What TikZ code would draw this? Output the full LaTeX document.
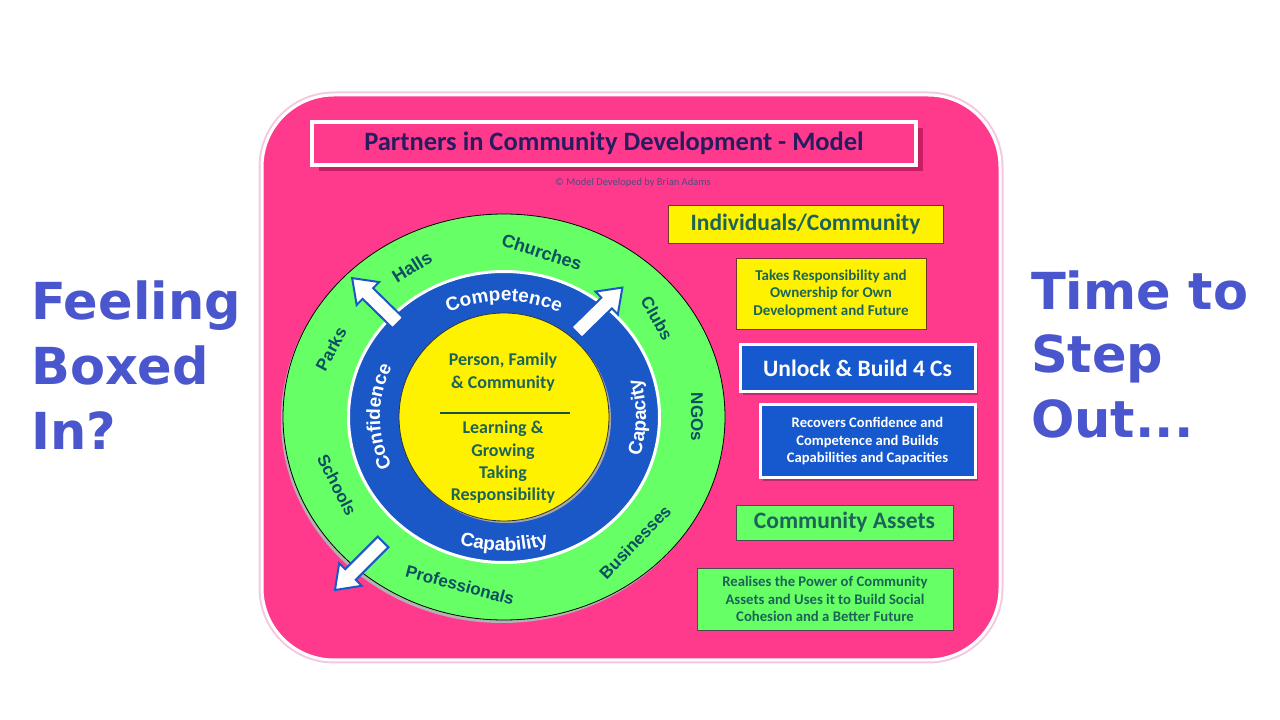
\documentclass[tikz,border=0pt]{standalone}
\usepackage{fontspec}
\setmainfont{Carlito}
\newfontfamily\arialf{Liberation Sans}
\newfontfamily\verdf{DejaVu Sans}
\usetikzlibrary{decorations.text,shadows}
\definecolor{pinkbg}{RGB}{255,58,140}
\definecolor{pinkshadow}{RGB}{200,30,100}
\definecolor{pinkedge}{RGB}{245,200,225}
\definecolor{titlenavy}{RGB}{38,28,96}
\definecolor{tealtxt}{RGB}{28,100,88}
\definecolor{ringtext}{RGB}{12,78,98}
\definecolor{ringblue}{RGB}{26,88,200}
\definecolor{boxblue}{RGB}{22,88,205}
\definecolor{ringgreen}{RGB}{102,255,102}
\definecolor{headblue}{RGB}{74,86,205}
\definecolor{ybrown}{RGB}{120,50,40}
\newcommand\ringfont{\arialf\bfseries\fontsize{19}{19}\selectfont}
\begin{document}
\begin{tikzpicture}[x=1pt,y=1pt,
  ybox/.style={fill=yellow, draw=ybrown, line width=0.8pt, text=tealtxt, align=center, inner sep=0pt},
  bbox/.style={fill=boxblue, draw=white, line width=3pt, text=white, align=center, inner sep=0pt,
     drop shadow={shadow xshift=3pt, shadow yshift=-3pt, fill=black, opacity=0.25}},
  gbox/.style={fill=ringgreen, draw=black!70, line width=0.8pt, text=tealtxt, align=center, inner sep=0pt},
  ringlabel/.style={text=ringtext, font=\arialf\bfseries\fontsize{17}{17}\selectfont, inner sep=0pt},
  centertext/.style={text=tealtxt, align=center, inner sep=0pt},
  headline/.style={text=headblue, font=\verdf\bfseries\fontsize{51}{51}\selectfont, inner sep=0pt, anchor=base west},
  bigarrow/.style={fill=white, draw=ringblue, line width=2pt, line join=miter}
]
\useasboundingbox (0,0) rectangle (1280,720);
\fill[white] (0,0) rectangle (1280,720);

% pink panel
\draw[pinkedge, line width=7pt, rounded corners=72pt] (262,60) rectangle (1000,625);
\draw[white, line width=3pt, fill=pinkbg, rounded corners=72pt] (262,60) rectangle (1000,625);

% title
\fill[pinkshadow] (319,549) rectangle (923,592);
\node[fill=pinkbg, draw=white, line width=4pt, minimum width=604pt, minimum height=43pt, inner sep=0pt,
      text=titlenavy, font=\bfseries\fontsize{26.5}{26.5}\selectfont] (title) at (614,576.5)
      {Partners in Community Development - Model};
\node[text=titlenavy!80, font=\fontsize{10.5}{10.5}\selectfont, inner sep=0pt] (copy) at (633,537)
      {© Model Developed by Brian Adams};

% circles
\coordinate (C) at (504,303);
\fill[gray!60] ([shift={(-2,-3)}]C) ellipse [x radius=221pt, y radius=203pt];
\draw[black, line width=0.8pt, fill=ringgreen] (C) ellipse [x radius=221pt, y radius=203pt];
\draw[white, line width=3pt, fill=ringblue] (C) ellipse [x radius=155.5pt, y radius=145.5pt];
\fill[gray!70] ([shift={(2,-2)}]C) ellipse [x radius=105pt, y radius=104pt];
\draw[black!80, line width=0.8pt, fill=yellow] (C) ellipse [x radius=105pt, y radius=104pt];

% centre text
\node[centertext, font=\bfseries\fontsize{18}{23}\selectfont] (pfc) at (503,348) {Person, Family\\\& Community};
\draw[tealtxt!80!black, line width=1.2pt] (440,307) -- (570,307);
\node[centertext, font=\bfseries\fontsize{18}{22.4}\selectfont] (lgt) at (503,257.5) {Learning \&\\Growing\\Taking\\Responsibility};

% blue ring text
\path[decorate, decoration={text along path, text align=center, text color=white, text={|\ringfont|Competence}}]
  ([shift={(150:124pt and 116pt)}]C) arc[start angle=150, end angle=30, x radius=124pt, y radius=116pt];
\path[decorate, decoration={text along path, text align=center, text color=white, text={|\ringfont|Confidence}}]
  ([shift={(240:124pt and 116pt)}]C) arc[start angle=240, end angle=120, x radius=124pt, y radius=116pt];
\path[decorate, decoration={text along path, text align=center, text color=white, text={|\ringfont|Capability}}]
  ([shift={(210:142pt and 134pt)}]C) arc[start angle=210, end angle=330, x radius=142pt, y radius=134pt];
\path[decorate, decoration={text along path, text align=center, text color=white, text={|\ringfont|Capacity}}]
  ([shift={(-60:142pt and 134pt)}]C) arc[start angle=-60, end angle=60, x radius=142pt, y radius=134pt];

% green ring labels
\node[ringlabel, rotate=32, font=\arialf\bfseries\fontsize{18}{18}\selectfont] (halls) at (412,453) {Halls};
\node[ringlabel, rotate=-18, font=\arialf\bfseries\fontsize{18}{18}\selectfont] (churches) at (542,468) {Churches};
\node[ringlabel, rotate=-61] (clubs) at (657,402) {Clubs};
\node[ringlabel, rotate=-90] (ngos) at (697,303) {NGOs};
\node[ringlabel, rotate=46] (business) at (635,178) {Businesses};
\node[ringlabel, rotate=-15] (prof) at (460,135) {Professionals};
\node[ringlabel, rotate=-63] (schools) at (337,235) {Schools};
\node[ringlabel, rotate=62] (parks) at (331,371) {Parks};

% block arrows
\draw[bigarrow, shift={(375,419.5)}, rotate=135.6]
  (-32,-7.5) -- (10,-7.5) -- (10,-16) -- (32,0) -- (10,16) -- (10,7.5) -- (-32,7.5) -- cycle;
\draw[bigarrow, shift={(599.5,410)}, rotate=44.4]
  (-32,-7.5) -- (10,-7.5) -- (10,-16) -- (32,0) -- (10,16) -- (10,7.5) -- (-32,7.5) -- cycle;
\draw[bigarrow, shift={(359,154)}, rotate=225]
  (-34,-7.5) -- (12,-7.5) -- (12,-16) -- (34,0) -- (12,16) -- (12,7.5) -- (-34,7.5) -- cycle;

% right boxes
\node[ybox, minimum width=275pt, minimum height=38pt, font=\bfseries\fontsize{23.5}{23.5}\selectfont] (indiv) at (805.5,496) {Individuals/Community};
\node[ybox, minimum width=190pt, minimum height=71pt, font=\bfseries\fontsize{15}{17.5}\selectfont] (takes) at (831,426.5) {Takes Responsibility and\\Ownership for Own\\Development and Future};
\node[bbox, minimum width=235pt, minimum height=47pt, font=\bfseries\fontsize{23.5}{23.5}\selectfont] (unlock) at (857.5,351.5) {Unlock \& Build 4 Cs};
\node[bbox, minimum width=215pt, minimum height=73pt, font=\bfseries\fontsize{14.6}{17.5}\selectfont] (recovers) at (867.5,278.5) {Recovers Confidence and\\Competence and Builds\\Capabilities and Capacities};
\node[gbox, minimum width=217pt, minimum height=35pt, font=\bfseries\fontsize{23.5}{23.5}\selectfont] (assets) at (844.5,197.5) {Community Assets};
\node[gbox, minimum width=256pt, minimum height=62pt, font=\bfseries\fontsize{14.7}{17.5}\selectfont] (realises) at (825,121) {Realises the Power of Community\\Assets and Uses it to Build Social\\Cohesion and a Better Future};

% side headlines
\node[headline] (feel1) at (31,400) {Feeling};
\node[headline] (feel2) at (31,335) {Boxed};
\node[headline] (feel3) at (31,270) {In?};
\node[headline] (time1) at (1031,410) {Time to};
\node[headline] (time2) at (1031,347) {Step};
\node[headline] (time3) at (1031,282) {Out...};
\end{tikzpicture}
\end{document}
